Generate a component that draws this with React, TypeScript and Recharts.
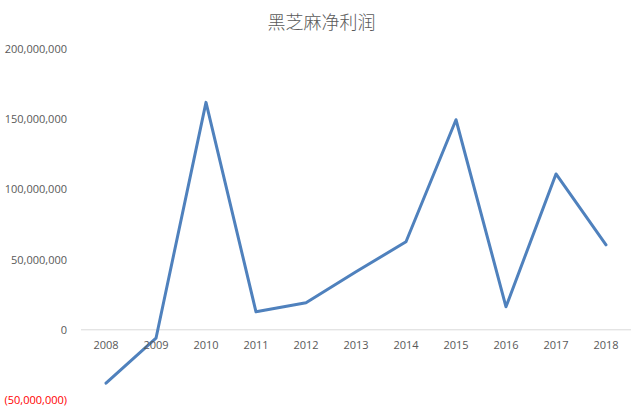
import { LineChart, Line, XAxis, YAxis, ReferenceLine } from 'recharts'

const years = ['2008', '2009', '2010', '2011', '2012', '2013', '2014', '2015', '2016', '2017', '2018']
const profit = [-38000000, -6000000, 162000000, 12800000, 19200000, 41300000, 62700000, 149600000, 16400000, 111000000, 60500000]
const yTicks = [-50000000, 0, 50000000, 100000000, 150000000, 200000000]

const data = years.map((y, i) => ({ year: y, value: profit[i] }))

const W = 643
const H = 410
const margin = { top: 49, right: 12, bottom: 9, left: 0 }
const xAxisH = 1
const yMin = -50000000
const yMax = 200000000
// distance from plot bottom up to the zero line, for the category labels
const plotH = H - margin.top - margin.bottom - xAxisH
const zeroLift = ((0 - yMin) / (yMax - yMin)) * plotH

const font = "'Open Sans', 'Noto Sans', sans-serif"

function fmt(v: number) {
  const s = Math.abs(v).toLocaleString('en-US')
  return v < 0 ? `(${s})` : s
}

function YTick(props: any) {
  const { x, y, payload } = props
  const v = payload.value as number
  return (
    <text x={x} y={y} dy={4} textAnchor="end" fontSize={11} fontFamily={font}
      fill={v < 0 ? '#ff0000' : '#595959'}>
      {fmt(v)}
    </text>
  )
}

function XTick(props: any) {
  const { x, y, payload } = props
  return (
    <text x={x} y={y - zeroLift} dy={19} textAnchor="middle" fontSize={11} fontFamily={font} fill="#595959">
      {payload.value}
    </text>
  )
}

export default function App() {
  return (
    <div style={{ position: 'absolute', left: 0, top: 0, width: W, height: H, background: '#fff' }}>
      <div style={{
        position: 'absolute', top: 8, left: 0, width: W, textAlign: 'center',
        fontFamily: "'Noto Sans CJK SC', sans-serif", fontSize: 18, color: '#595959', fontWeight: 300
      }}>
        黑芝麻净利润
      </div>
      <LineChart width={W} height={H} data={data} margin={margin}>
        <XAxis dataKey="year" height={xAxisH} axisLine={false} tickLine={false} tickSize={0} tickMargin={0}
          tick={<XTick />} interval={0} padding={{ left: 25, right: 25 }} />
        <YAxis width={81} domain={[yMin, yMax]} ticks={yTicks} axisLine={false} tickLine={false}
          tickMargin={8} tick={<YTick />} interval={0} />
        <ReferenceLine y={0} stroke="#d9d9d9" strokeWidth={1} />
        <Line type="linear" dataKey="value" stroke="#4f81bd" strokeWidth={3} dot={false}
          strokeLinejoin="round" strokeLinecap="round" isAnimationActive={false} />
      </LineChart>
    </div>
  )
}
